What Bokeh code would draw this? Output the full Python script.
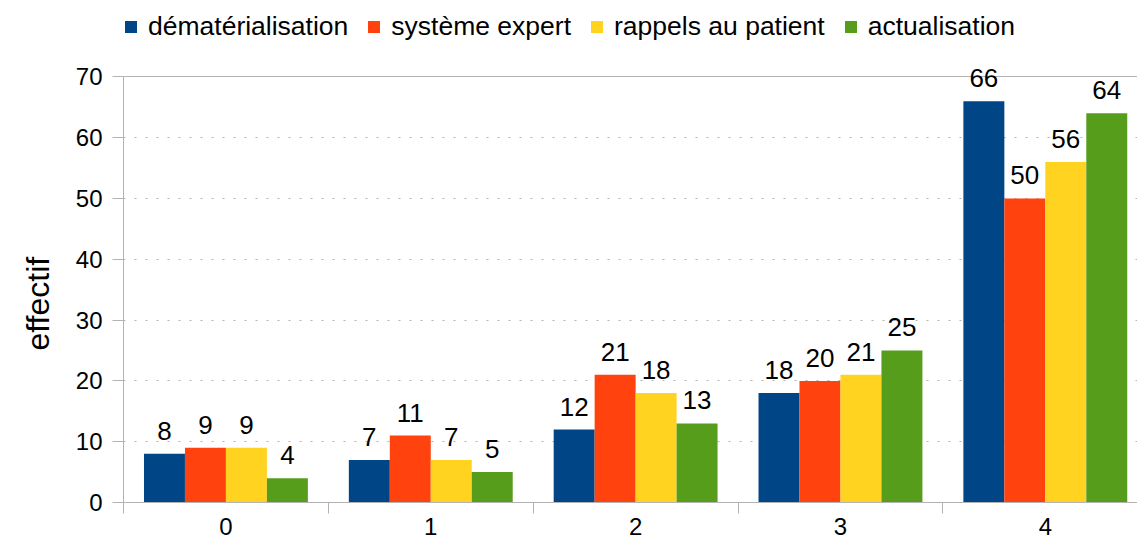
from bokeh.plotting import figure
from bokeh.layouts import column
from bokeh.models import (ColumnDataSource, Range1d, FixedTicker, Legend, LegendItem, Grid, Title)
from bokeh.core.properties import value
from bokeh.embed import file_html
from bokeh.resources import INLINE

categories = ["0", "1", "2", "3", "4"]
series_names = ["dématérialisation", "système expert", "rappels au patient", "actualisation"]
dematerialisation = [8, 7, 12, 18, 66]
systeme_expert = [9, 11, 21, 20, 50]
rappels_au_patient = [9, 7, 18, 21, 56]
actualisation = [4, 5, 13, 25, 64]
y_ticks = [0, 10, 20, 30, 40, 50, 60, 70]
y_label = "effectif"

colors = ["#004586", "#ff420e", "#ffd320", "#579d1c"]
all_series = [dematerialisation, systeme_expert, rappels_au_patient, actualisation]

FONT = "Liberation Sans"
TXT = "#000000"
GRAY = "#b3b3b3"
W = 1137
LEG_H = 52

n = len(categories)
p = figure(width=W, height=545 - LEG_H, output_backend="svg", toolbar_location=None,
           x_range=Range1d(0, n - 0.05), y_range=Range1d(y_ticks[0], y_ticks[-1] + 4),
           min_border_left=123, min_border_top=0, min_border_right=0, min_border_bottom=43)
p.outline_line_color = None
p.background_fill_color = "white"

# legend strip (separate figure on top)
pl = figure(width=W, height=LEG_H, output_backend="svg", toolbar_location=None,
            x_axis_type=None, y_axis_type=None, x_range=Range1d(0, 1), y_range=Range1d(0, 1),
            min_border_left=0, min_border_right=0, min_border_top=0, min_border_bottom=0)
pl.outline_line_color = None
pl.xgrid.grid_line_color = None
pl.ygrid.grid_line_color = None

bar_w = 0.2
offsets = [-0.3, -0.1, 0.1, 0.3]
items = []
for name, vals, col, off in zip(series_names, all_series, colors, offsets):
    src = ColumnDataSource(dict(x=[i + 0.5 + off for i in range(n)], top=vals,
                                label=[str(v) for v in vals]))
    p.vbar(x="x", top="top", width=bar_w, bottom=0, source=src,
           fill_color=col, line_color=None)
    p.text(x="x", y="top", text="label", source=src, text_align="center",
           text_baseline="bottom", y_offset=-14, text_font=value(FONT),
           text_font_size="26px", text_color=TXT)
    lr = pl.vbar(x="x", top="top", width=bar_w, source=src, fill_color=col,
                 line_color=None, visible=False)
    items.append(LegendItem(label=name, renderers=[lr]))

# axes
centers = [i + 0.5 for i in range(n)]
bounds = list(range(n + 1))
xa = p.xaxis[0]
xa.ticker = FixedTicker(ticks=centers, minor_ticks=bounds)
xa.major_label_overrides = {c: lab for c, lab in zip(centers, categories)}
xa.major_tick_line_color = None
xa.major_tick_out = 10
xa.major_tick_in = 0
xa.minor_tick_out = 11
xa.minor_tick_in = 0
xa.minor_tick_line_color = GRAY
xa.axis_line_color = GRAY
xa.major_label_standoff = 4
xa.major_label_text_font = FONT
xa.major_label_text_font_size = "24px"
xa.major_label_text_color = TXT

ya = p.yaxis[0]
ya.ticker = FixedTicker(ticks=y_ticks)
ya.bounds = (y_ticks[0], y_ticks[-1])
ya.minor_tick_line_color = None
ya.major_tick_out = 11
ya.major_tick_in = 0
ya.major_tick_line_color = GRAY
ya.axis_line_color = GRAY
ya.major_label_standoff = 10
ya.major_label_text_font = FONT
ya.major_label_text_font_size = "24px"
ya.major_label_text_color = TXT

ytitle = Title(text=y_label, align="left", offset=152, standoff=34,
               text_font=FONT, text_font_size="32px", text_font_style="normal",
               text_color=TXT)
p.add_layout(ytitle, "left")

p.xgrid.grid_line_color = None
p.ygrid.ticker = FixedTicker(ticks=y_ticks)
p.ygrid.grid_line_color = GRAY
p.ygrid.grid_line_dash = "2 9"
top_grid = Grid(dimension=1, ticker=FixedTicker(ticks=[y_ticks[-1]]),
                grid_line_color=GRAY)
p.add_layout(top_grid)

legend = Legend(items=items, orientation="horizontal", location=(0, 10),
                label_text_font=FONT, label_text_font_size="26.5px", label_text_color=TXT,
                glyph_width=15, glyph_height=15, label_standoff=10, spacing=18,
                padding=0, margin=0, border_line_color=None, background_fill_alpha=0,
                inactive_fill_alpha=0)
pl.add_layout(legend, "center")

layout = column(pl, p, spacing=0)
open("out.html", "w").write(file_html(layout, INLINE))
